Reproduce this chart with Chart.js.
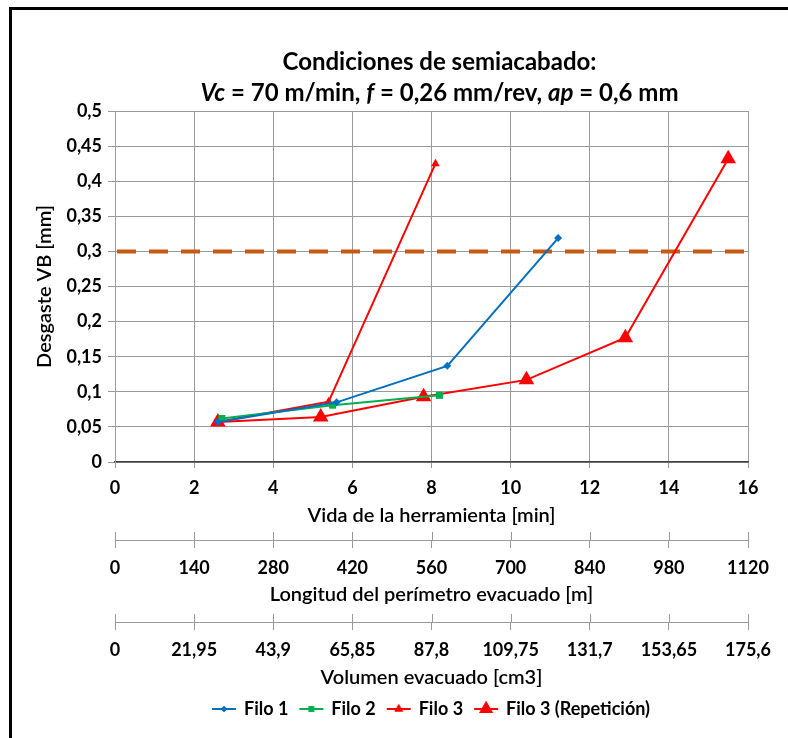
<!DOCTYPE html>
<html>
<head>
<meta charset="utf-8">
<script src="https://cdn.jsdelivr.net/npm/chart.js@4.4.1/dist/chart.umd.min.js"></script>
<style>
    html, body { margin: 0; padding: 0; background: #fff; }
    #wrap { position: relative; width: 788px; height: 738px; overflow: hidden; }
    #frame { position: absolute; left: 9px; top: 7px; width: 820px; height: 780px; border: 3px solid #000; box-sizing: border-box; }
    #wear-chart { position: absolute; left: 0; top: 0; }
</style>
</head>
<body>
<div id="wrap">
    <div id="frame"></div>
    <canvas id="wear-chart" width="788" height="738"></canvas>
</div>
<script>
// values (time in min, wear VB in mm)
const filo1Time = [2.6, 5.6, 8.4, 11.2];
const filo1Wear = [0.057, 0.085, 0.137, 0.319];
const filo2Time = [2.7, 5.5, 8.2];
const filo2Wear = [0.062, 0.081, 0.095];
const filo3Time = [2.6, 5.4, 8.1];
const filo3Wear = [0.057, 0.086, 0.425];
const filo3RepTime = [2.6, 5.2, 7.8, 10.4, 12.9, 15.5];
const filo3RepWear = [0.057, 0.064, 0.093, 0.117, 0.177, 0.432];
const limitTime = [0.05, 16];
const limitWear = [0.3, 0.3];

const timeTicks = [0, 2, 4, 6, 8, 10, 12, 14, 16];
const lengthTicks = [0, 140, 280, 420, 560, 700, 840, 980, 1120];
const volumeTicks = [0, 21.95, 43.9, 65.85, 87.8, 109.75, 131.7, 153.65, 175.6];
const wearTicks = [0, 0.05, 0.1, 0.15, 0.2, 0.25, 0.3, 0.35, 0.4, 0.45, 0.5];

const titleLine1 = 'Condiciones de semiacabado:';
const titleLine2 = [
    { text: 'Vc', italic: true },
    { text: ' = 70 m/min, ', italic: false },
    { text: 'f', italic: true },
    { text: ' = 0,26 mm/rev, ', italic: false },
    { text: 'ap', italic: true },
    { text: ' = 0,6 mm', italic: false }
];

const BLUE = '#0070C0';
const GREEN = '#00B050';
const RED = '#FF0000';
const ORANGE = '#C55A11';
const GRID = '#9a9a9a';
const FONT = 'Lato, "Open Sans", sans-serif';

Chart.defaults.font.family = FONT;
Chart.defaults.color = '#000';

const toPoints = (xs, ys) => xs.map((x, i) => ({ x: x, y: ys[i] }));
const fixedTicks = values => scale => { scale.ticks = values.map(v => ({ value: v })); };
const comma = v => String(v).replace('.', ',');

function legendIcon(color, style, radius) {
    const c = document.createElement('canvas');
    c.width = 26;
    c.height = 20;
    const g = c.getContext('2d');
    g.strokeStyle = color;
    g.lineWidth = 2;
    g.beginPath();
    g.moveTo(1, 10);
    g.lineTo(25, 10);
    g.stroke();
    g.fillStyle = color;
    Chart.helpers.drawPoint(g, { pointStyle: style, radius: radius, borderWidth: 0 }, 13, 10);
    g.fill();
    return c;
}

const seriesStyles = [
    { label: 'Filo 1', time: filo1Time, wear: filo1Wear, color: BLUE, style: 'rectRot', radius: 4 },
    { label: 'Filo 2', time: filo2Time, wear: filo2Wear, color: GREEN, style: 'rect', radius: 5 },
    { label: 'Filo 3', time: filo3Time, wear: filo3Wear, color: RED, style: 'triangle', radius: 5 },
    { label: 'Filo 3 (Repetición)', time: filo3RepTime, wear: filo3RepWear, color: RED, style: 'triangle', radius: 9 }
];

const datasets = seriesStyles.map(s => ({
    label: s.label,
    data: toPoints(s.time, s.wear),
    borderColor: s.color,
    backgroundColor: s.color,
    borderWidth: 2,
    pointStyle: s.style,
    pointRadius: s.radius,
    pointHoverRadius: s.radius,
    pointBorderWidth: 0,
    tension: 0,
    xAxisID: 'x',
    yAxisID: 'y'
}));

datasets.push({
    label: 'VB límite',
    data: toPoints(limitTime, limitWear),
    borderColor: ORANGE,
    borderWidth: 4,
    borderDash: [19, 13],
    borderCapStyle: 'butt',
    pointRadius: 0,
    xAxisID: 'x',
    yAxisID: 'y'
});

const legendIcons = seriesStyles.map(s => legendIcon(s.color, s.style, s.style === 'triangle' ? Math.min(s.radius, 8) : s.radius - 1));

// title with italic symbols
const titlePlugin = {
    id: 'mixedTitle',
    afterDraw(chart) {
        const ctx = chart.ctx;
        const cx = (chart.chartArea.left + chart.chartArea.right) / 2 + 8;
        ctx.save();
        ctx.fillStyle = '#000';
        ctx.textBaseline = 'middle';
        ctx.textAlign = 'center';
        ctx.font = 'bold 24px ' + FONT;
        ctx.fillText(titleLine1, cx, 62);

        ctx.textAlign = 'left';
        const fontFor = part => (part.italic ? 'italic bold 24px ' : 'bold 24px ') + FONT;
        const widths = titleLine2.map(part => {
            ctx.font = fontFor(part);
            return ctx.measureText(part.text).width;
        });
        let x = cx - widths.reduce((a, b) => a + b, 0) / 2;
        titleLine2.forEach((part, i) => {
            ctx.font = fontFor(part);
            ctx.fillText(part.text, x, 93);
            x += widths[i];
        });
        ctx.restore();
    }
};

// tick marks of the secondary axes cross their line
const crossTicksPlugin = {
    id: 'crossTicks',
    afterDraw(chart) {
        const ctx = chart.ctx;
        ctx.save();
        ctx.strokeStyle = GRID;
        ctx.lineWidth = 1;
        ['length', 'volume'].forEach(id => {
            const s = chart.scales[id];
            s.ticks.forEach(t => {
                const px = Math.round(s.getPixelForValue(t.value)) + 0.5;
                ctx.beginPath();
                ctx.moveTo(px, s.top - 8);
                ctx.lineTo(px, s.top);
                ctx.stroke();
            });
        });
        ctx.restore();
    }
};

const tickFont = { size: 18, weight: 'bold' };
const axisTitleFont = { size: 20, weight: '600' };

new Chart(document.getElementById('wear-chart').getContext('2d'), {
    type: 'line',
    data: { datasets: datasets },
    plugins: [titlePlugin, crossTicksPlugin],
    options: {
        responsive: false,
        devicePixelRatio: 1,
        animation: false,
        layout: {
            padding: { left: 14, right: 40, top: 111, bottom: 10 }
        },
        plugins: {
            title: { display: false },
            tooltip: { enabled: false },
            legend: {
                display: true,
                position: 'bottom',
                fullSize: false,
                labels: {
                    color: '#000',
                    font: { size: 18, weight: 'bold' },
                    usePointStyle: true,
                    pointStyleWidth: 22,
                    padding: 12,
                    filter: item => item.text !== 'VB límite',
                    generateLabels(chart) {
                        const items = Chart.defaults.plugins.legend.labels.generateLabels(chart);
                        return items.map(item => Object.assign(item, {
                            pointStyle: legendIcons[item.datasetIndex] || item.pointStyle
                        }));
                    }
                }
            }
        },
        scales: {
            x: {
                type: 'linear',
                position: 'bottom',
                min: 0,
                max: 16,
                afterBuildTicks: fixedTicks(timeTicks),
                afterFit: s => { s.height = 78; },
                grid: { color: GRID, tickLength: 6, tickColor: GRID },
                border: { color: '#404040', width: 1.5 },
                ticks: { font: tickFont, padding: 9, maxRotation: 0, callback: v => comma(v) },
                title: {
                    display: true,
                    text: 'Vida de la herramienta [min]',
                    font: axisTitleFont,
                    padding: { top: 0, bottom: 12 }
                }
            },
            length: {
                type: 'linear',
                position: 'bottom',
                min: 0,
                max: 1120,
                afterBuildTicks: fixedTicks(lengthTicks),
                afterFit: s => { s.height = 82; },
                grid: { drawOnChartArea: false, tickLength: 8, color: GRID },
                border: { color: GRID, width: 1 },
                ticks: { font: tickFont, padding: 9, maxRotation: 0, autoSkip: false, callback: v => comma(v) },
                title: {
                    display: true,
                    text: 'Longitud del perímetro evacuado [m]',
                    font: axisTitleFont,
                    padding: { top: 0, bottom: 15 }
                }
            },
            volume: {
                type: 'linear',
                position: 'bottom',
                min: 0,
                max: 175.6,
                afterBuildTicks: fixedTicks(volumeTicks),
                afterFit: s => { s.height = 66; },
                grid: { drawOnChartArea: false, tickLength: 8, color: GRID },
                border: { color: GRID, width: 1 },
                ticks: { font: tickFont, padding: 9, maxRotation: 0, autoSkip: false, callback: v => comma(v) },
                title: {
                    display: true,
                    text: 'Volumen evacuado [cm3]',
                    font: axisTitleFont,
                    padding: { top: 0, bottom: -2 }
                }
            },
            y: {
                type: 'linear',
                position: 'left',
                min: 0,
                max: 0.5,
                afterBuildTicks: fixedTicks(wearTicks),
                afterFit: s => { s.width = 101; },
                grid: { color: GRID, tickLength: 7, tickColor: GRID },
                border: { color: GRID },
                ticks: { font: tickFont, padding: 6, callback: v => comma(v) },
                title: {
                    display: true,
                    text: 'Desgaste VB [mm]',
                    font: axisTitleFont,
                    padding: { top: 19, bottom: 0 }
                }
            }
        }
    }
});
</script>
</body>
</html>
